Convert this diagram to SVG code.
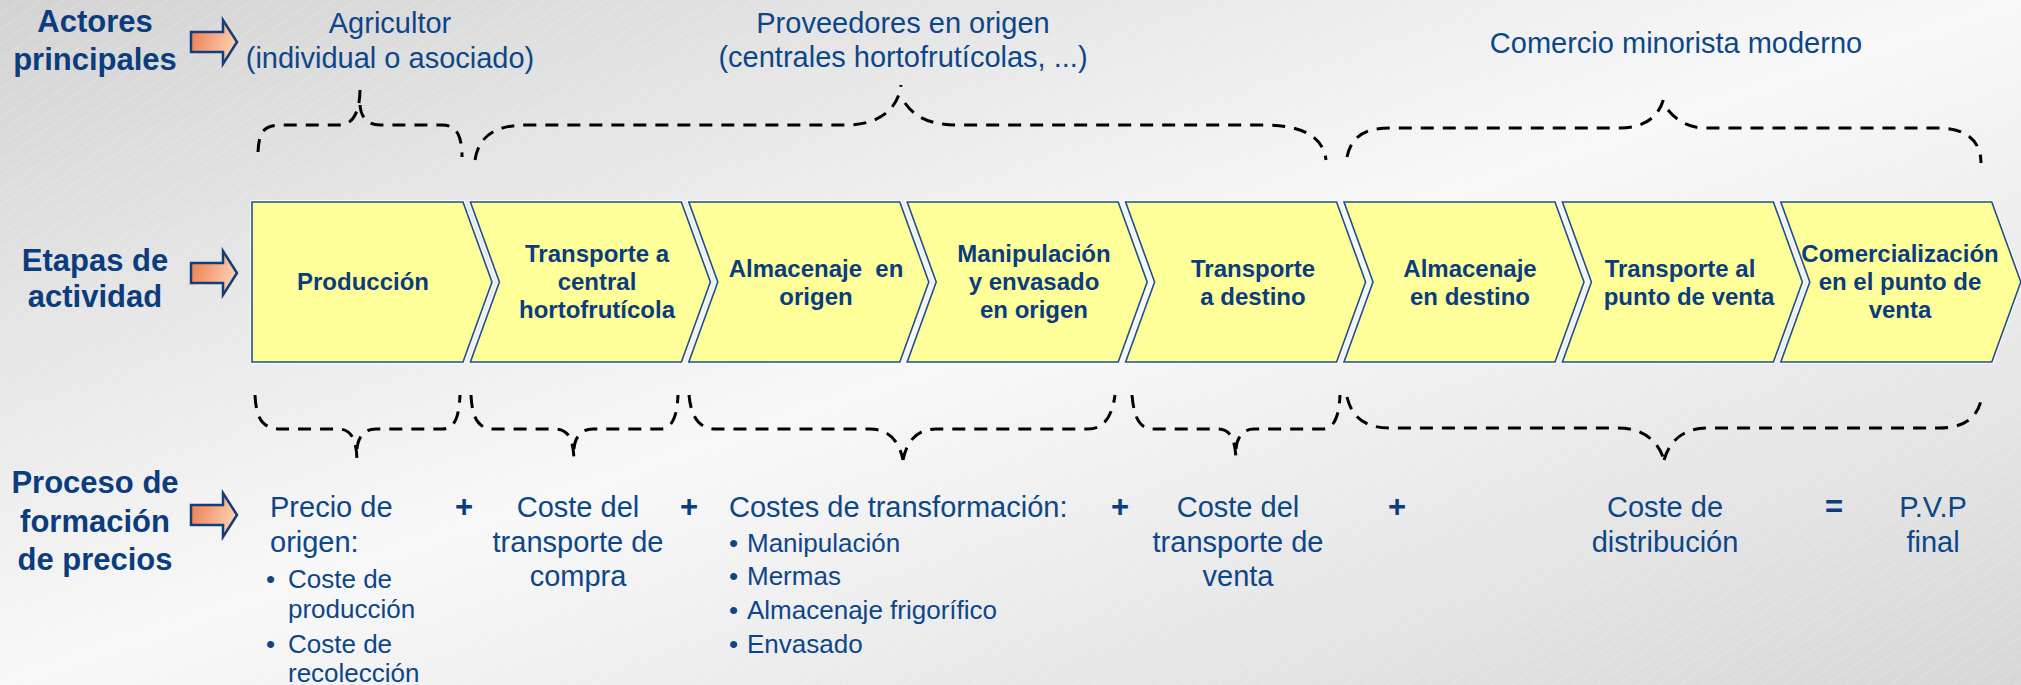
<svg xmlns="http://www.w3.org/2000/svg" width="2021" height="685" viewBox="0 0 2021 685">
<defs>
<linearGradient id="bg" x1="0" y1="0" x2="1" y2="1">
<stop offset="0" stop-color="#d3d3d3"/>
<stop offset="0.5" stop-color="#f8f8f8"/>
<stop offset="1" stop-color="#d7d7d7"/>
</linearGradient>
<linearGradient id="arrowFill" x1="0" y1="0" x2="1" y2="0.3">
<stop offset="0" stop-color="#ee7a48"/>
<stop offset="1" stop-color="#f9cdb0"/>
</linearGradient>
<pattern id="hatch" width="12" height="12" patternUnits="userSpaceOnUse" patternTransform="rotate(-35)">
<line x1="0" y1="0" x2="12" y2="0" stroke="#ffffff" stroke-width="1" stroke-opacity="0.35"/>
</pattern>
<path id="arrowShape" d="M 191,-10 L 223,-10 L 223,-22 L 237,0 L 223,22 L 223,10 L 191,10 Z"/>
</defs>
<style>
.hdr{font-family:"Liberation Sans",Arial,sans-serif;font-weight:bold;font-size:31px;fill:#0a3c7e;text-anchor:middle}
.act{font-family:"Liberation Sans",Arial,sans-serif;font-size:29px;fill:#0d4688;text-anchor:middle}
.chev{fill:#ffff99;stroke:#1e4f8e;stroke-width:1.6}
.chevw{fill:none;stroke:#fafafa;stroke-width:4}
.ct{font-family:"Liberation Sans",Arial,sans-serif;font-weight:bold;font-size:24px;fill:#0a3c7e;text-anchor:middle}
.pt{font-family:"Liberation Sans",Arial,sans-serif;font-size:29px;fill:#0d4688}
.ptc{font-family:"Liberation Sans",Arial,sans-serif;font-size:29px;fill:#0d4688;text-anchor:middle}
.bl{font-family:"Liberation Sans",Arial,sans-serif;font-size:26px;fill:#0d4688}
.op{font-family:"Liberation Sans",Arial,sans-serif;font-weight:bold;font-size:31px;fill:#0a3c7e;text-anchor:middle}
.brace{fill:none;stroke:#000000;stroke-width:3;stroke-dasharray:13 9}
.arr{fill:url(#arrowFill);stroke:#163d78;stroke-width:2.5;stroke-linejoin:miter}
</style>
<rect x="0" y="0" width="2021" height="685" fill="url(#bg)"/>
<rect x="0" y="0" width="2021" height="685" fill="url(#hatch)"/>

<g id="label-actores">
<text class="hdr" x="95" y="32">Actores</text>
<text class="hdr" x="95" y="70">principales</text>
<use href="#arrowShape" class="arr" transform="translate(0,42)"/>
</g>
<g id="label-etapas">
<text class="hdr" x="95" y="271">Etapas de</text>
<text class="hdr" x="95" y="307">actividad</text>
<use href="#arrowShape" class="arr" transform="translate(0,273)"/>
</g>
<g id="label-proceso">
<text class="hdr" x="95" y="493">Proceso de</text>
<text class="hdr" x="95" y="532">formación</text>
<text class="hdr" x="95" y="570">de precios</text>
<use href="#arrowShape" class="arr" transform="translate(0,515)"/>
</g>

<g id="actor-agricultor">
<text class="act" x="390" y="33">Agricultor</text>
<text class="act" x="390" y="68">(individual o asociado)</text>
</g>
<g id="actor-proveedores">
<text class="act" x="903" y="33">Proveedores en origen</text>
<text class="act" x="903" y="67">(centrales hortofrutícolas, ...)</text>
</g>
<g id="actor-comercio">
<text class="act" x="1676" y="53">Comercio minorista moderno</text>
</g>

<g id="stage-1">
<path class="chevw" d="M252,202 L463,202 L492,282 L463,362 L252,362 Z"/>
<path class="chev" d="M252,202 L463,202 L492,282 L463,362 L252,362 Z"/>
<text class="ct" x="363" y="290">Producción</text>
</g>
<g id="stage-2">
<path class="chevw" d="M470.4,202 L681.4,202 L710.4,282 L681.4,362 L470.4,362 L499.4,282 Z"/>
<path class="chev" d="M470.4,202 L681.4,202 L710.4,282 L681.4,362 L470.4,362 L499.4,282 Z"/>
<text class="ct" x="597" y="262">Transporte a</text>
<text class="ct" x="597" y="290">central</text>
<text class="ct" x="597" y="318">hortofrutícola</text>
</g>
<g id="stage-3">
<path class="chevw" d="M688.8,202 L899.8,202 L928.8,282 L899.8,362 L688.8,362 L717.8,282 Z"/>
<path class="chev" d="M688.8,202 L899.8,202 L928.8,282 L899.8,362 L688.8,362 L717.8,282 Z"/>
<text class="ct" x="816" y="277">Almacenaje&#160; en</text>
<text class="ct" x="816" y="305">origen</text>
</g>
<g id="stage-4">
<path class="chevw" d="M907.2,202 L1118.2,202 L1147.2,282 L1118.2,362 L907.2,362 L936.2,282 Z"/>
<path class="chev" d="M907.2,202 L1118.2,202 L1147.2,282 L1118.2,362 L907.2,362 L936.2,282 Z"/>
<text class="ct" x="1034" y="262">Manipulación</text>
<text class="ct" x="1034" y="290">y envasado</text>
<text class="ct" x="1034" y="318">en origen</text>
</g>
<g id="stage-5">
<path class="chevw" d="M1125.6,202 L1336.6,202 L1365.6,282 L1336.6,362 L1125.6,362 L1154.6,282 Z"/>
<path class="chev" d="M1125.6,202 L1336.6,202 L1365.6,282 L1336.6,362 L1125.6,362 L1154.6,282 Z"/>
<text class="ct" x="1253" y="277">Transporte</text>
<text class="ct" x="1253" y="305">a destino</text>
</g>
<g id="stage-6">
<path class="chevw" d="M1344,202 L1555,202 L1584,282 L1555,362 L1344,362 L1373,282 Z"/>
<path class="chev" d="M1344,202 L1555,202 L1584,282 L1555,362 L1344,362 L1373,282 Z"/>
<text class="ct" x="1470" y="277">Almacenaje</text>
<text class="ct" x="1470" y="305">en destino</text>
</g>
<g id="stage-7">
<path class="chevw" d="M1562.4,202 L1773.4,202 L1802.4,282 L1773.4,362 L1562.4,362 L1591.4,282 Z"/>
<path class="chev" d="M1562.4,202 L1773.4,202 L1802.4,282 L1773.4,362 L1562.4,362 L1591.4,282 Z"/>
<text class="ct" x="1680" y="277">Transporte al</text>
<text class="ct" x="1689" y="305">punto de venta</text>
</g>
<g id="stage-8">
<path class="chevw" d="M1780.8,202 L1991.8,202 L2020.8,282 L1991.8,362 L1780.8,362 L1809.8,282 Z"/>
<path class="chev" d="M1780.8,202 L1991.8,202 L2020.8,282 L1991.8,362 L1780.8,362 L1809.8,282 Z"/>
<text class="ct" x="1900" y="262">Comercialización</text>
<text class="ct" x="1900" y="290">en el punto de</text>
<text class="ct" x="1900" y="318">venta</text>
</g>

<g id="connectors">
<path class="brace" d="M258,152 C259,131 264,125 282,125 L340,125 C352,125 360,113 360,89 M360,105 C361,118 368,125 380,125 L442,125 C456,125 462,135 462,157"/>
<path class="brace" d="M475,160 C479,135 496,125 527,125 L846,125 C878,125 898,110 901,85 M905,103 C915,118 932,125 958,125 L1262,125 C1300,125 1323,135 1326,160"/>
<path class="brace" d="M1347,157 C1351,138 1363,128 1390,128 L1620,128 C1645,128 1660,116 1664,97 M1668,110 C1678,122 1690,128 1705,128 L1938,128 C1965,128 1981,140 1981,163"/>

<path class="brace" d="M255,395 C256,419 263,429 281,429 L338,429 C350,429 357,437 357,463 M357,449 C358,437 364,429 376,429 L442,429 C454,429 459,419 460,395"/>
<path class="brace" d="M471,395 C472,419 479,429 494,429 L555,429 C567,429 574,437 574,463 M574,449 C575,437 581,429 593,429 L660,429 C671,429 677,419 678,395"/>
<path class="brace" d="M689,395 C691,418 700,429 716,429 L870,429 C888,429 899,440 903,460 M903,460 C907,440 918,429 936,429 L1088,429 C1103,429 1112,418 1115,395"/>
<path class="brace" d="M1132,395 C1134,419 1140,429 1154,429 L1218,429 C1229,429 1236,437 1236,463 M1236,449 C1237,437 1243,429 1254,429 L1322,429 C1333,429 1339,419 1340,395"/>
<path class="brace" d="M1347,397 C1352,418 1366,428 1390,428 L1618,428 C1642,428 1658,440 1664,460 M1664,460 C1670,440 1684,428 1708,428 L1939,428 C1964,428 1979,418 1982,395"/>
</g>

<g id="price-origen">
<text class="pt" x="270" y="517">Precio de</text>
<text class="pt" x="270" y="552">origen:</text>
<text class="bl" x="266" y="588">•</text>
<text class="bl" x="288" y="588">Coste de</text>
<text class="bl" x="288" y="618">producción</text>
<text class="bl" x="266" y="653">•</text>
<text class="bl" x="288" y="653">Coste de</text>
<text class="bl" x="288" y="682">recolección</text>
</g>
<g id="op-1"><text class="op" x="464" y="517">+</text></g>
<g id="price-transporte-compra">
<text class="ptc" x="578" y="517">Coste del</text>
<text class="ptc" x="578" y="552">transporte de</text>
<text class="ptc" x="578" y="586">compra</text>
</g>
<g id="op-2"><text class="op" x="689" y="517">+</text></g>
<g id="price-transformacion">
<text class="pt" x="729" y="517">Costes de transformación:</text>
<text class="bl" x="729" y="552">•</text>
<text class="bl" x="747" y="552">Manipulación</text>
<text class="bl" x="729" y="585">•</text>
<text class="bl" x="747" y="585">Mermas</text>
<text class="bl" x="729" y="619">•</text>
<text class="bl" x="747" y="619">Almacenaje frigorífico</text>
<text class="bl" x="729" y="653">•</text>
<text class="bl" x="747" y="653">Envasado</text>
</g>
<g id="op-3"><text class="op" x="1120" y="517">+</text></g>
<g id="price-transporte-venta">
<text class="ptc" x="1238" y="517">Coste del</text>
<text class="ptc" x="1238" y="552">transporte de</text>
<text class="ptc" x="1238" y="586">venta</text>
</g>
<g id="op-4"><text class="op" x="1397" y="517">+</text></g>
<g id="price-distribucion">
<text class="ptc" x="1665" y="517">Coste de</text>
<text class="ptc" x="1665" y="552">distribución</text>
</g>
<g id="op-5"><text class="op" x="1834" y="517">=</text></g>
<g id="price-pvp">
<text class="ptc" x="1933" y="517">P.V.P</text>
<text class="ptc" x="1933" y="552">final</text>
</g>
</svg>
